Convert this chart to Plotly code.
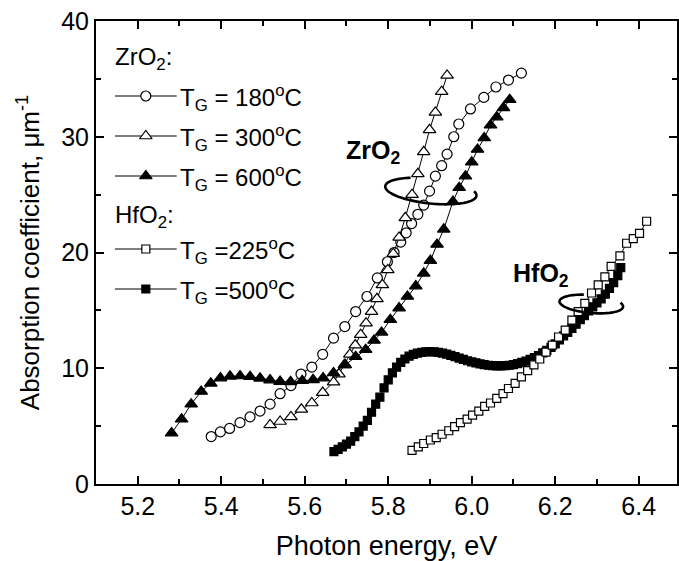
import numpy as np
import plotly.graph_objects as go

# ---------------- data ----------------
zr180_E = [5.376, 5.398, 5.420, 5.445, 5.469, 5.493, 5.517, 5.541, 5.567, 5.591,
           5.617, 5.643, 5.669, 5.696, 5.722, 5.749, 5.774, 5.798, 5.814, 5.830,
           5.843, 5.856, 5.871, 5.885, 5.899, 5.913, 5.928, 5.941, 5.957, 5.969,
           5.997, 6.029, 6.058, 6.088, 6.119]
zr180_a = [4.1, 4.5, 4.8, 5.3, 5.8, 6.3, 6.9, 7.8, 8.5, 9.5,
           10.1, 11.2, 12.6, 13.6, 14.9, 16.2, 17.8, 19.2, 20.0, 20.9,
           21.7, 22.5, 23.3, 24.1, 25.3, 26.6, 27.5, 28.5, 30.0, 31.1,
           32.4, 33.4, 34.3, 34.9, 35.5]

zr300_E = [5.517, 5.541, 5.567, 5.592, 5.617, 5.643, 5.669, 5.682, 5.695, 5.708,
           5.721, 5.734, 5.747, 5.760, 5.773, 5.786, 5.799, 5.812, 5.826, 5.841,
           5.857, 5.871, 5.885, 5.899, 5.913, 5.928, 5.941]
zr300_a = [5.1, 5.4, 5.8, 6.45, 7.0, 7.9, 8.8, 9.5, 10.3, 11.2,
           12.0, 12.9, 13.9, 14.9, 16.0, 17.2, 18.5, 19.9, 21.3, 23.0,
           25.0, 26.8, 28.7, 30.6, 32.1, 33.9, 35.3]

zr600_E = [5.281, 5.305, 5.328, 5.352, 5.375, 5.398, 5.421, 5.445, 5.469, 5.493,
           5.517, 5.541, 5.566, 5.594, 5.620, 5.644, 5.669, 5.697, 5.722, 5.746,
           5.766, 5.784, 5.805, 5.826, 5.846, 5.866, 5.885, 5.901, 5.917, 5.933,
           5.955, 5.970, 5.985, 6.000, 6.014, 6.030, 6.045, 6.060, 6.076, 6.091]
zr600_a = [4.4, 5.6, 6.9, 8.0, 8.7, 9.15, 9.3, 9.33, 9.27, 9.13,
           8.98, 8.85, 8.83, 8.92, 9.0, 9.15, 9.6, 10.3, 11.0, 11.6,
           12.4, 13.1, 14.2, 15.2, 16.2, 17.1, 18.2, 19.3, 20.7, 22.0,
           24.4, 25.6, 26.6, 27.8, 28.9, 29.9, 31.0, 31.7, 32.5, 33.2]

hf225_E = [5.857, 5.872, 5.885, 5.901, 5.915, 5.929, 5.945, 5.959, 5.973, 5.989,
           6.002, 6.017, 6.031, 6.045, 6.060, 6.075, 6.088, 6.104, 6.119, 6.134,
           6.149, 6.163, 6.178, 6.193, 6.208, 6.224, 6.240, 6.255, 6.271, 6.287,
           6.303, 6.319, 6.334, 6.355, 6.371, 6.387, 6.402, 6.419]
hf225_a = [2.9, 3.2, 3.5, 3.8, 4.0, 4.3, 4.6, 4.95, 5.3, 5.6,
           5.95, 6.3, 6.7, 7.0, 7.4, 7.8, 8.25, 8.7, 9.25, 9.8,
           10.3, 10.8, 11.4, 12.0, 12.7, 13.3, 14.15, 14.9, 15.6, 16.5,
           17.2, 17.9, 18.8, 19.7, 20.8, 21.2, 21.65, 22.7]

hf500_E = [5.67, 5.68, 5.69, 5.70, 5.71, 5.72, 5.73, 5.74, 5.75, 5.76,
           5.77, 5.78, 5.79, 5.80, 5.81, 5.82, 5.83, 5.84, 5.85, 5.86,
           5.87, 5.88, 5.89, 5.90, 5.91, 5.92, 5.93, 5.94, 5.95, 5.96,
           5.97, 5.98, 5.99, 6.00, 6.01, 6.02, 6.03, 6.04, 6.05, 6.06,
           6.07, 6.08, 6.09, 6.10, 6.11, 6.12, 6.13, 6.14, 6.15, 6.16,
           6.17, 6.18, 6.19, 6.20, 6.21, 6.22, 6.23, 6.24, 6.25, 6.26,
           6.27, 6.28, 6.29, 6.30, 6.31, 6.32, 6.33, 6.34, 6.35, 6.357]
hf500_a = [2.8, 3.0, 3.2, 3.45, 3.7, 4.1, 4.5, 5.0, 5.5, 6.2,
           6.9, 7.5, 8.3, 9.0, 9.6, 10.1, 10.5, 10.8, 11.05, 11.2,
           11.3, 11.38, 11.42, 11.43, 11.42, 11.38, 11.3, 11.22, 11.12, 11.0,
           10.88, 10.76, 10.65, 10.55, 10.46, 10.38, 10.31, 10.26, 10.22, 10.2,
           10.2, 10.22, 10.26, 10.32, 10.4, 10.5, 10.62, 10.76, 10.92, 11.1,
           11.32, 11.55, 11.8, 12.1, 12.45, 12.8, 13.1, 13.45, 13.8, 14.2,
           14.55, 14.95, 15.3, 15.65, 16.0, 16.4, 16.9, 17.4, 18.0, 18.7]

x_ticks = [5.2, 5.4, 5.6, 5.8, 6.0, 6.2, 6.4]
y_ticks = [0, 10, 20, 30, 40]

legend_labels = ["T<sub>G</sub> = 180<sup>o</sup>C", "T<sub>G</sub> = 300<sup>o</sup>C",
                 "T<sub>G</sub> = 600<sup>o</sup>C", "T<sub>G</sub> =225<sup>o</sup>C",
                 "T<sub>G</sub> =500<sup>o</sup>C"]

# ---------------- styling ----------------
FONT = "Liberation Sans, Arial, sans-serif"
W, H = 679, 561
L, R, T, B = 96, 0, 21, 77
PX_LEFT, PX_RIGHT, PX_TOP, PX_BOT = L, W - R, T, H - B

styles = [
    dict(symbol="circle", color="white", size=10),
    dict(symbol="triangle-up", color="white", size=11),
    dict(symbol="triangle-up", color="black", size=11),
    dict(symbol="square", color="white", size=8),
    dict(symbol="square", color="black", size=8),
]
series = [(zr180_E, zr180_a), (zr300_E, zr300_a), (zr600_E, zr600_a),
          (hf500_E, hf500_a), (hf225_E, hf225_a)]
series_style = [styles[0], styles[1], styles[2], styles[4], styles[3]]

fig = go.Figure()
for (xs, ys), st in zip(series, series_style):
    fig.add_trace(go.Scatter(
        x=xs, y=ys, mode="lines+markers",
        line=dict(color="black", width=1),
        marker=dict(symbol=st["symbol"], size=st["size"], color=st["color"],
                    line=dict(color="black", width=1.2)),
        showlegend=False, xaxis="x", yaxis="y"))

# ---- custom legend drawn on a pixel-coordinate overlay axis ----
leg_y = [96, 136, 176, 249, 289]
for yy, st in zip(leg_y, styles):
    fig.add_trace(go.Scatter(x=[115, 177], y=[yy, yy], mode="lines",
                             line=dict(color="black", width=1),
                             showlegend=False, xaxis="x2", yaxis="y2", hoverinfo="skip"))
    fig.add_trace(go.Scatter(x=[146], y=[yy], mode="markers",
                             marker=dict(symbol=st["symbol"], size=st["size"], color=st["color"],
                                         line=dict(color="black", width=1.2)),
                             showlegend=False, xaxis="x2", yaxis="y2", hoverinfo="skip"))

annotations = []
for yy, lab in zip(leg_y, legend_labels):
    annotations.append(dict(x=178, y=yy + 2, xref="x2", yref="y2", text=lab,
                            showarrow=False, xanchor="left", yanchor="middle",
                            font=dict(family=FONT, size=24, color="black")))
annotations.append(dict(x=113, y=58, xref="x2", yref="y2", text="ZrO<sub>2</sub>:",
                        showarrow=False, xanchor="left", yanchor="middle",
                        font=dict(family=FONT, size=24, color="black")))
annotations.append(dict(x=113, y=216, xref="x2", yref="y2", text="HfO<sub>2</sub>:",
                        showarrow=False, xanchor="left", yanchor="middle",
                        font=dict(family=FONT, size=24, color="black")))
annotations.append(dict(x=374, y=152, xref="x2", yref="y2", text="<b>ZrO<sub>2</sub></b>",
                        showarrow=False, xanchor="center", yanchor="middle",
                        font=dict(family=FONT, size=25, color="black")))
annotations.append(dict(x=543, y=275, xref="x2", yref="y2", text="<b>HfO<sub>2</sub></b>",
                        showarrow=False, xanchor="center", yanchor="middle",
                        font=dict(family=FONT, size=25, color="black")))


def arc_path(cx, cy, a, b, t0, t1, tilt_deg):
    t = np.radians(np.linspace(t0, t1, 80))
    ex = a * np.cos(t)
    ey = -b * np.sin(t)
    th = np.radians(tilt_deg)
    xs = cx + ex * np.cos(th) - ey * np.sin(th)
    ys = cy + ex * np.sin(th) + ey * np.cos(th)
    return "M " + " L ".join(f"{x:.2f},{y:.2f}" for x, y in zip(xs, ys))


shapes = [
    dict(type="path", xref="x2", yref="y2", path=arc_path(432, 191, 46, 12.5, 118, 380, 6),
         line=dict(color="black", width=2.6)),
    dict(type="path", xref="x2", yref="y2", path=arc_path(593, 304, 32, 9, 105, 385, 5),
         line=dict(color="black", width=2.6)),
]

axis_common = dict(
    showline=True, linecolor="black", linewidth=2, mirror="allticks",
    ticks="inside", ticklen=8, tickwidth=1.6, tickcolor="black",
    showgrid=False, zeroline=False,
    tickfont=dict(family=FONT, size=25, color="black"),
)

x_range_max = 5.1 + (PX_RIGHT - PX_LEFT) / 418.9

fig.update_layout(
    width=W, height=H,
    margin=dict(l=L, r=R, t=T, b=B, pad=0),
    paper_bgcolor="white", plot_bgcolor="white",
    showlegend=False,
    xaxis=dict(range=[5.1, x_range_max], tickvals=x_ticks,
               ticktext=[f"{v:.1f}" for v in x_ticks],
               ticklabelstandoff=-1,
               minor=dict(dtick=0.1, tick0=5.1, ticks="inside", ticklen=5,
                          tickwidth=1.6, tickcolor="black"),
               title=dict(text="Photon energy, eV", standoff=18,
                          font=dict(family=FONT, size=27, color="black")),
               **axis_common),
    yaxis=dict(range=[0, 40], tickvals=y_ticks,
               minor=dict(dtick=5, tick0=0, ticks="inside", ticklen=5,
                          tickwidth=1.6, tickcolor="black"),
               title=dict(text="Absorption coefficient, μm<sup>-1</sup>", standoff=14,
                          font=dict(family=FONT, size=26, color="black")),
               **axis_common),
    xaxis2=dict(range=[PX_LEFT, PX_RIGHT], overlaying="x", visible=False, fixedrange=True),
    yaxis2=dict(range=[PX_BOT, PX_TOP], overlaying="y", visible=False, fixedrange=True),
    annotations=annotations,
    shapes=shapes,
)

fig.write_html("out.html", config={"displayModeBar": False},
               post_script="document.body.style.margin='0px';")
